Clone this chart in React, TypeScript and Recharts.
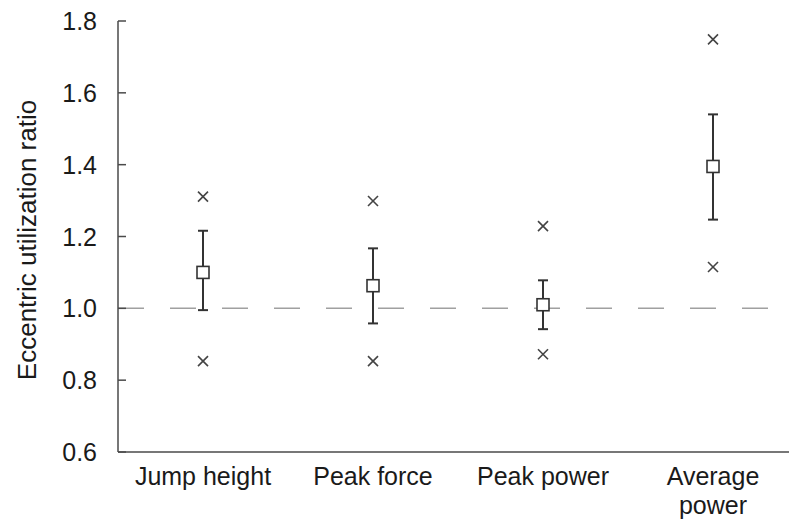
import React from "react";
import {
  ScatterChart,
  Scatter,
  XAxis,
  YAxis,
  ErrorBar,
  ReferenceLine,
} from "recharts";

// categories and values
const categories = ["Jump height", "Peak force", "Peak power", "Average\npower"];
const means = [1.1, 1.063, 1.01, 1.395];
const lowerBounds = [0.995, 0.958, 0.942, 1.247];
const upperBounds = [1.216, 1.167, 1.078, 1.54];
const maxValues = [1.311, 1.299, 1.229, 1.749];
const minValues = [0.853, 0.853, 0.872, 1.115];
const yTicks = [0.6, 0.8, 1.0, 1.2, 1.4, 1.6, 1.8];

const FONT = "'Liberation Sans', Arial, sans-serif";
const INK = "#333333";
const TEXT = "#1a1a1a";
const AXIS = "#4a4a4a";

const data = categories.map((c, i) => ({
  x: i + 0.5,
  name: c,
  mean: means[i],
  err: [means[i] - lowerBounds[i], upperBounds[i] - means[i]],
  max: maxValues[i],
  min: minValues[i],
}));

const SquareShape = (props: any) => {
  const { cx, cy } = props;
  return <rect x={cx - 6} y={cy - 6} width={12} height={12} fill="#fff" stroke={INK} strokeWidth={1.6} />;
};

const CrossShape = (props: any) => {
  const { cx, cy } = props;
  const r = 5;
  return (
    <g stroke="#444" strokeWidth={1.6}>
      <line x1={cx - r} y1={cy - r} x2={cx + r} y2={cy + r} />
      <line x1={cx - r} y1={cy + r} x2={cx + r} y2={cy - r} />
    </g>
  );
};

// tick text only; the tick marks come from tickLine (drawn inward)
const YTick = (props: any) => {
  const { x, y, payload } = props;
  return (
    <text x={x - 29} y={y} dy="0.36em" textAnchor="end" fontSize={25} fontFamily={FONT} fill={TEXT}>
      {Number(payload.value).toFixed(1)}
    </text>
  );
};

const XTick = (props: any) => {
  const { x, y, payload } = props;
  const idx = Math.floor(payload.value);
  const lines = (categories[idx] || "").split("\n");
  return (
    <text x={x} y={y + 33} textAnchor="middle" fontSize={25} fontFamily={FONT} fill={TEXT}>
      {lines.map((l, i) => (
        <tspan key={i} x={x} dy={i === 0 ? 0 : 29}>
          {l}
        </tspan>
      ))}
    </text>
  );
};

const YLabel = () => (
  <text
    x={0}
    y={0}
    transform="translate(36, 240) rotate(-90)"
    textAnchor="middle"
    fontSize={26}
    fontFamily={FONT}
    fill={TEXT}
  >
    Eccentric utilization ratio
  </text>
);

export default function App() {
  return (
    <div style={{ width: 789, height: 524, overflow: "hidden", background: "#fff" }}>
      <style>{`body{margin:0;overflow:hidden;}`}</style>
      <ScatterChart width={800} height={524} margin={{ top: 21, right: 2, bottom: 0, left: 0 }}>
        <ReferenceLine
          segment={[
            { x: 0, y: 1.0 },
            { x: 4, y: 1.0 },
          ]}
          stroke="#a0a0a0"
          strokeWidth={1.5}
          strokeDasharray="26 26"
        />
        <XAxis
          type="number"
          dataKey="x"
          domain={[0, 4]}
          ticks={[0.5, 1.5, 2.5, 3.5]}
          tickLine={false}
          tickSize={0}
          tickMargin={0}
          height={72}
          axisLine={{ stroke: AXIS, strokeWidth: 1.5 }}
          tick={<XTick />}
          interval={0}
        />
        <YAxis
          type="number"
          domain={[0.6, 1.8]}
          ticks={yTicks}
          width={118}
          tickLine={{ stroke: AXIS, strokeWidth: 1.5 }}
          tickSize={-8}
          tickMargin={0}
          axisLine={{ stroke: AXIS, strokeWidth: 1.5 }}
          tick={<YTick />}
          interval={0}
          label={{ content: () => <YLabel /> }}
        />
        <Scatter data={data} dataKey="max" shape={<CrossShape />} isAnimationActive={false} />
        <Scatter data={data} dataKey="min" shape={<CrossShape />} isAnimationActive={false} />
        <Scatter data={data} dataKey="mean" shape={<SquareShape />} isAnimationActive={false}>
          <ErrorBar dataKey="err" direction="y" width={5} stroke={INK} strokeWidth={2} />
        </Scatter>
      </ScatterChart>
    </div>
  );
}
